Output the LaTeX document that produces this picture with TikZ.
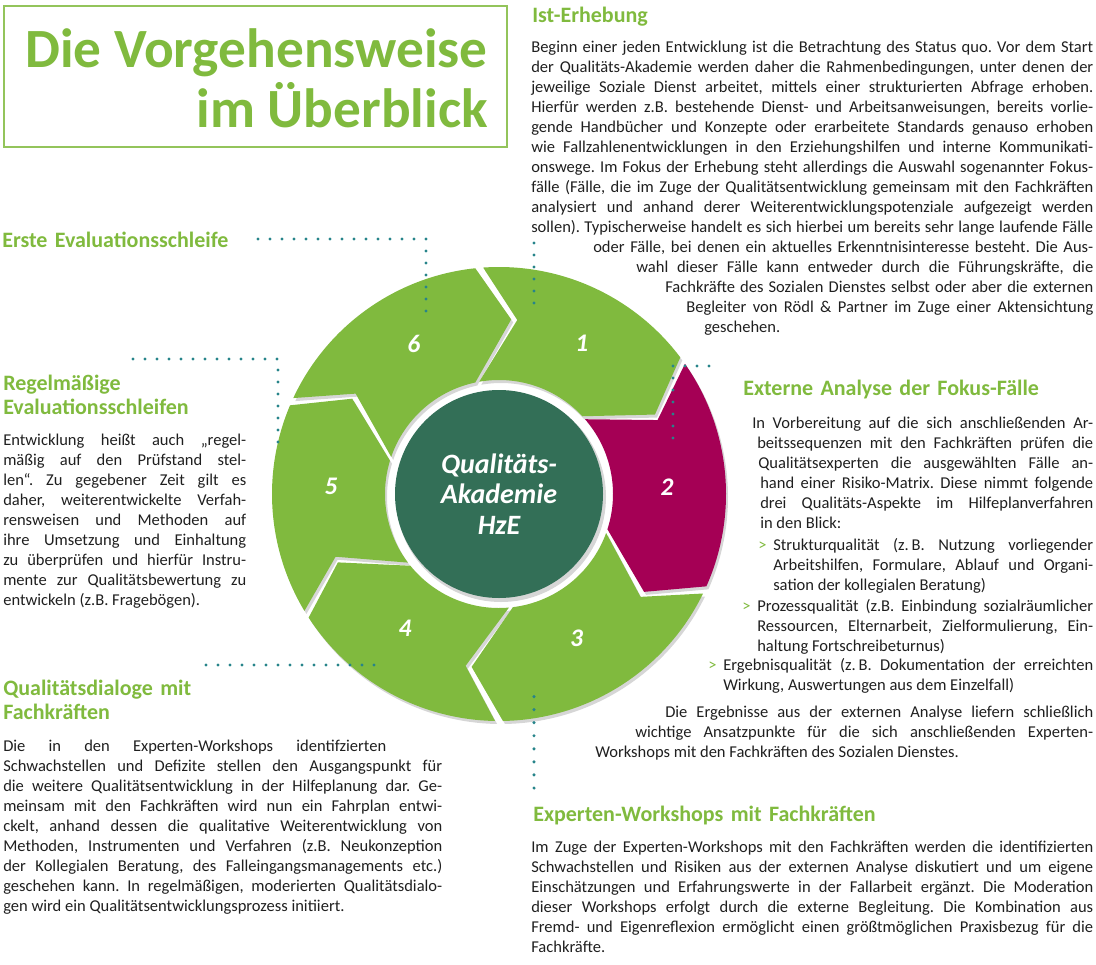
\documentclass[tikz,border=0pt]{standalone}
\usepackage{fontspec}
\setmainfont{Carlito}
\usetikzlibrary{calc}
\definecolor{hzeGreen}{HTML}{80BA3E}
\definecolor{hzeMagenta}{HTML}{A50055}
\definecolor{hzeDark}{HTML}{336F57}
\definecolor{hzeTeal}{HTML}{27848A}
\newdimen\pxu \pxu=0.75pt
\begin{document}
\begin{tikzpicture}[x=0.75pt,y=-0.75pt,line cap=butt,line join=miter,
  headline/.style={anchor=base west,inner sep=0pt,text width=300pt,align=left,
    font=\fontsize{16.5}{18.5}\selectfont\bfseries\frenchspacing,text=hzeGreen},
  bodytext/.style={anchor=base west,inner sep=0pt,align=justify,
    font=\fontsize{12.4}{15}\selectfont\frenchspacing,text=black!88},
  segnum/.style={font=\fontsize{19}{19}\selectfont\bfseries\itshape,text=white},
  dotline/.style={hzeTeal,line width=2.6pt,line cap=round,dash pattern=on 0pt off 9pt}]

\useasboundingbox (0,0) rectangle (1096,964);

% Ring geometry (1 unit = 1 px, y up inside the scope)
\def\Rout{227}
\def\Rmid{175}
\def\Rin{114}
\def\tipang{10}   % chevron tip, clockwise
\def\inang{6}     % inner corner, counter-clockwise
\def\gap{1}
\def\segment#1#2{({#1-\gap}:\Rout) arc[start angle={#1-\gap},end angle={#2+\gap},radius=\Rout]
  -- ({#2+\gap-\tipang}:\Rmid) -- ({#2+\gap+\inang}:\Rin)
  arc[start angle={#2+\gap+\inang},end angle={#1-\gap+\inang},radius=\Rin]
  -- ({#1-\gap-\tipang}:\Rmid) -- cycle}

\begin{scope}[shift={(499,494)},yscale=-1]
% shadows
\foreach \back/\front in {95/36,36/-25,-25/-90,-90/-148,-148/-204,-204/-265}
  \fill[black,opacity=.16,shift={(2,-3)}] \segment{\back}{\front};
% segments
\foreach \back/\front/\col/\num in {95/36/hzeGreen/1,36/-25/hzeMagenta/2,-25/-90/hzeGreen/3,
    -90/-148/hzeGreen/4,-148/-204/hzeGreen/5,-204/-265/hzeGreen/6}{
  \fill[\col] \segment{\back}{\front};
  \pgfmathsetmacro\mid{(\back+\front)/2-5}
  \node[segnum] (seg\num) at ($(\mid:168)+(0,5)$) {\num};
}
% hub
\fill[black,opacity=.16] (2,-3) circle[radius=105];
\node[circle,fill=hzeDark,inner sep=0pt,minimum size=156pt,align=center,text=white,
  font=\fontsize{21}{22.8}\selectfont\bfseries\itshape] (hub) at (0,0) {Qualitäts-\\Akademie\\HzE};
\end{scope}

% ---- TITLE ----
\draw[hzeGreen!85,line width=1.1pt] (4,6) rectangle (507,147);
\node[anchor=base east,inner sep=0pt,text=hzeGreen,font=\fontsize{41.5}{41.5}\selectfont\bfseries]
  (title1) at (488,67) {Die Vorgehensweise};
\node[anchor=base east,inner sep=0pt,text=hzeGreen,font=\fontsize{41.5}{41.5}\selectfont\bfseries]
  (title2) at (488,127) {im Überblick};

% ---- 1: Ist-Erhebung ----
\node[headline] (istHead) at (532,22) {Ist-Erhebung};
\node[bodytext,text width=421.5pt] (istText) at (531,52) {\leavevmode\parshape 15
  0\pxu 562\pxu 0\pxu 562\pxu 0\pxu 562\pxu 0\pxu 562\pxu 0\pxu 562\pxu
  0\pxu 562\pxu 0\pxu 562\pxu 0\pxu 562\pxu 0\pxu 562\pxu 0\pxu 562\pxu
  62\pxu 500\pxu 105\pxu 457\pxu 134\pxu 428\pxu 155\pxu 407\pxu 173\pxu 389\pxu
  Beginn einer jeden Entwicklung ist die Betrachtung des Status quo. Vor dem Start\linebreak
  der Qualitäts-Akademie werden daher die Rahmenbedingungen, unter denen der\linebreak
  jeweilige Soziale Dienst arbeitet, mittels einer strukturierten Abfrage erhoben.\linebreak
  Hierfür werden z.B. bestehende Dienst- und Arbeitsanweisungen, bereits vorlie-\linebreak
  gende Handbücher und Konzepte oder erarbeitete Standards genauso erhoben\linebreak
  wie Fallzahlenentwicklungen in den Erziehungshilfen und interne Kommunikati-\linebreak
  onswege. Im Fokus der Erhebung steht allerdings die Auswahl sogenannter Fokus-\linebreak
  fälle (Fälle, die im Zuge der Qualitätsentwicklung gemeinsam mit den Fachkräften\linebreak
  analysiert und anhand derer Weiterentwicklungspotenziale aufgezeigt werden\linebreak
  sollen). Typischerweise handelt es sich hierbei um bereits sehr lange laufende Fälle\linebreak
  oder Fälle, bei denen ein aktuelles Erkenntnisinteresse besteht. Die Aus-\linebreak
  wahl dieser Fälle kann entweder durch die Führungskräfte, die\linebreak
  Fachkräfte des Sozialen Dienstes selbst oder aber die externen\linebreak
  Begleiter von Rödl \& Partner im Zuge einer Aktensichtung\linebreak
  geschehen.\par};

% ---- 2: Externe Analyse ----
\node[headline] (extHead) at (743,395) {Externe Analyse der Fokus-Fälle};
\node[bodytext,text width=255.75pt] (extText) at (752,428) {\leavevmode\parshape 6
  0\pxu 341\pxu 5\pxu 336\pxu 6\pxu 335\pxu 8\pxu 333\pxu 8\pxu 333\pxu 8\pxu 333\pxu
  In Vorbereitung auf die sich anschließenden Ar-\linebreak
  beitssequenzen mit den Fachkräften prüfen die\linebreak
  Qualitätsexperten die ausgewählten Fälle an-\linebreak
  hand einer Risiko-Matrix. Diese nimmt folgende\linebreak
  drei Qualitäts-Aspekte im Hilfeplanverfahren\linebreak
  in den Blick:\par};
\node[bodytext,text width=251.25pt] (extStruktur) at (758,550) {\leavevmode\parshape 2
  0\pxu 335\pxu 15\pxu 320\pxu
  \makebox[15\pxu][l]{\textcolor{hzeGreen}{>}}Strukturqualität (z.\,B. Nutzung vorliegender\linebreak
  Arbeitshilfen, Formulare, Ablauf und Organi-\linebreak
  sation der kollegialen Beratung)\par};
\node[bodytext,text width=263.25pt] (extProzess) at (742,611) {\leavevmode\parshape 2
  0\pxu 351\pxu 15\pxu 336\pxu
  \makebox[15\pxu][l]{\textcolor{hzeGreen}{>}}Prozessqualität (z.B. Einbindung sozialräumlicher\linebreak
  Ressourcen, Elternarbeit, Zielformulierung, Ein-\linebreak
  haltung Fortschreibeturnus)\par};
\node[bodytext,text width=288.75pt] (extErgebnis) at (708,670) {\leavevmode\parshape 2
  0\pxu 385\pxu 15\pxu 370\pxu
  \makebox[15\pxu][l]{\textcolor{hzeGreen}{>}}Ergebnisqualität (z.\,B. Dokumentation der erreichten\linebreak
  Wirkung, Auswertungen aus dem Einzelfall)\par};
\node[bodytext,text width=373.5pt] (extFazit) at (595,717) {\leavevmode\parshape 3
  70\pxu 428\pxu 40\pxu 458\pxu 0\pxu 498\pxu
  Die Ergebnisse aus der externen Analyse liefern schließlich\linebreak
  wichtige Ansatzpunkte für die sich anschließenden Experten-\linebreak
  Workshops mit den Fachkräften des Sozialen Dienstes.\par};

% ---- 3: Experten-Workshops ----
\node[headline] (expHead) at (533,821) {Experten-Workshops mit Fachkräften};
\node[bodytext,text width=421.5pt] (expText) at (531,852) {%
  Im Zuge der Experten-Workshops mit den Fachkräften werden die identifizierten\linebreak
  Schwachstellen und Risiken aus der externen Analyse diskutiert und um eigene\linebreak
  Einschätzungen und Erfahrungswerte in der Fallarbeit ergänzt. Die Moderation\linebreak
  dieser Workshops erfolgt durch die externe Begleitung. Die Kombination aus\linebreak
  Fremd- und Eigenreflexion ermöglicht einen größtmöglichen Praxisbezug für die\linebreak
  Fachkräfte.};

% ---- 4: Qualitätsdialoge ----
\node[headline] (dialHead) at (3,695) {Qualitätsdialoge mit\\Fachkräften};
\node[bodytext,text width=329.25pt] (dialText) at (3,751) {\leavevmode\parshape 2
  0\pxu 383\pxu 0\pxu 439\pxu
  Die in den Experten-Workshops identifzierten\linebreak
  Schwachstellen und Defizite stellen den Ausgangspunkt für\linebreak
  die weitere Qualitätsentwicklung in der Hilfeplanung dar. Ge-\linebreak
  meinsam mit den Fachkräften wird nun ein Fahrplan entwi-\linebreak
  ckelt, anhand dessen die qualitative Weiterentwicklung von\linebreak
  Methoden, Instrumenten und Verfahren (z.B. Neukonzeption\linebreak
  der Kollegialen Beratung, des Falleingangsmanagements etc.)\linebreak
  geschehen kann. In regelmäßigen, moderierten Qualitätsdialo-\linebreak
  gen wird ein Qualitätsentwicklungsprozess initiiert.\par};

% ---- 5: Regelmäßige Evaluationsschleifen ----
\node[headline] (regHead) at (3,390) {Regelmäßige\\Evaluationsschleifen};
\node[bodytext,text width=182.25pt] (regText) at (3,445) {%
  Entwicklung heißt auch „regel-\linebreak
  mäßig auf den Prüfstand stel-\linebreak
  len“. Zu gegebener Zeit gilt es\linebreak
  daher, weiterentwickelte Verfah-\linebreak
  rensweisen und Methoden auf\linebreak
  ihre Umsetzung und Einhaltung\linebreak
  zu überprüfen und hierfür Instru-\linebreak
  mente zur Qualitätsbewertung zu\linebreak
  entwickeln (z.B. Fragebögen).};

% ---- 6: Erste Evaluationsschleife ----
\node[headline] (ersteHead) at (2,247) {Erste Evaluationsschleife};

% ---- DOTTED LEADERS ----
\coordinate (ersteA) at (258,239);
\coordinate (ersteB) at (426,239);
\coordinate (ersteC) at (426,320);
\draw[dotline] (ersteA) -- (ersteB) -- (ersteC);

\coordinate (regA) at (133,359);
\coordinate (regB) at (278,359);
\coordinate (regC) at (278,447);
\draw[dotline] (regA) -- (regB) -- (regC);

\coordinate (dialA) at (206,665);
\coordinate (dialB) at (378,665);
\draw[dotline] (dialA) -- (dialB);

\coordinate (expA) at (534,788);
\coordinate (expB) at (534,694);
\draw[dotline,dash pattern=on 0pt off 9.8pt] (expA) -- (expB);

\coordinate (istA) at (534,243);
\coordinate (istB) at (534,305);
\draw[dotline] (istA) -- (istB);

\coordinate (extA) at (709,366);
\coordinate (extB) at (673,366);
\coordinate (extC) at (673,447);
\draw[dotline] (extA) -- (extB) -- (extC);

\end{tikzpicture}
\end{document}
